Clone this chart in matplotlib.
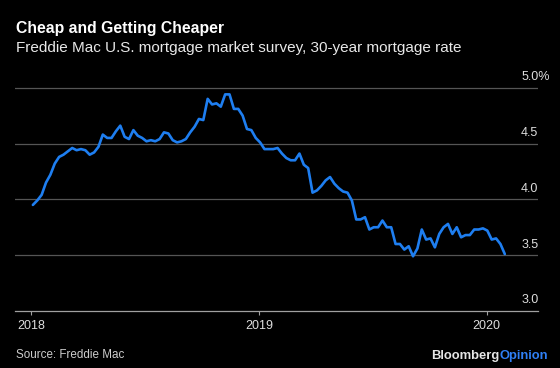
import matplotlib
matplotlib.use("Agg")
import matplotlib.pyplot as plt
import matplotlib.dates as mdates
import pandas as pd

plt.rcParams['font.family'] = ['Liberation Sans', 'DejaVu Sans']

# Data: Freddie Mac PMMS 30-year fixed rate, weekly from 2018-01-04
rates_2018 = [3.95, 3.99, 4.04, 4.15, 4.22, 4.32, 4.38, 4.40, 4.43, 4.46,
              4.44, 4.45, 4.44, 4.40, 4.42, 4.47, 4.58, 4.55, 4.55, 4.61,
              4.66, 4.56, 4.54, 4.62, 4.57, 4.55, 4.52, 4.53, 4.52, 4.54,
              4.60, 4.59, 4.53, 4.51, 4.52, 4.54, 4.60, 4.65, 4.72, 4.71,
              4.90, 4.85, 4.86, 4.83, 4.94, 4.94, 4.81, 4.81, 4.75, 4.63,
              4.62, 4.55]
rates_2019 = [4.51, 4.45, 4.45, 4.45, 4.46, 4.41, 4.37, 4.35, 4.35, 4.41,
              4.31, 4.28, 4.06, 4.08, 4.12, 4.17, 4.20, 4.14, 4.10, 4.07,
              4.06, 3.99, 3.82, 3.82, 3.84, 3.73, 3.75, 3.75, 3.81, 3.75,
              3.75, 3.60, 3.60, 3.55, 3.58, 3.49, 3.56, 3.73, 3.64, 3.65,
              3.57, 3.69, 3.75, 3.78, 3.69, 3.75, 3.66, 3.68, 3.68, 3.73,
              3.73, 3.74]
rates_2020 = [3.72, 3.64, 3.65, 3.60, 3.51]
rates = rates_2018 + rates_2019 + rates_2020
dates = pd.date_range('2018-01-04', periods=len(rates), freq='7D')

y_ticks = [3.0, 3.5, 4.0, 4.5, 5.0]
y_labels = ['3.0', '3.5', '4.0', '4.5', '5.0%']
x_ticks = ['2018-01-01', '2019-01-01', '2020-01-01']
x_labels = ['2018', '2019', '2020']

fig = plt.figure(figsize=(5.6, 3.68), dpi=100, facecolor='black')
ax = fig.add_axes([0.0273, 0.1549, 0.934, 0.6549])
ax.set_facecolor('black')

# gridlines
for v in y_ticks[1:]:
    ax.axhline(v, color='#555555', lw=0.9, zorder=1)

ax.plot(dates, rates, color='#1e7ef0', lw=1.9, zorder=3,
        solid_joinstyle='round', solid_capstyle='round')

start = mdates.date2num(pd.Timestamp('2018-01-01'))
end = mdates.date2num(pd.Timestamp('2020-01-01'))
ax.set_xlim(start - 25.2, end + 82.7)
ax.set_ylim(3.0, 5.1585)

for s in ['top', 'right', 'left']:
    ax.spines[s].set_visible(False)
ax.spines['bottom'].set_color('#a0a0a0')
ax.spines['bottom'].set_linewidth(0.9)

ax.set_yticks([])
ax.set_xticks([mdates.date2num(pd.Timestamp(d)) for d in x_ticks])
ax.set_xticklabels(x_labels)
ax.tick_params(axis='x', direction='out', length=3, width=0.8,
               color='#a0a0a0', labelcolor='#dddddd', labelsize=9, pad=3.5)

# y labels sit above the gridlines on the right
for v, lab in zip(y_ticks, y_labels):
    ax.annotate(lab, xy=(0.967, v), xycoords=ax.get_yaxis_transform(),
                xytext=(0, 5.5), textcoords='offset points',
                ha='left', va='baseline', fontsize=9, color='#dddddd')

# titles
fig.text(0.0285, 0.922, 'Cheap and Getting Cheaper', fontsize=11.3,
         fontweight='bold', color='white', ha='left', va='center')
fig.text(0.0285, 0.870,
         'Freddie Mac U.S. mortgage market survey, 30-year mortgage rate',
         fontsize=11, color='#e8e8e8', ha='left', va='center')

# footer
fig.text(0.0285, 0.035, 'Source: Freddie Mac', fontsize=8.4,
         color='#cccccc', ha='left', va='center')
op = fig.text(0.978, 0.033, 'Opinion', fontsize=9.4, fontweight='bold',
              color='#2f7ff5', ha='right', va='center')
ax.annotate('Bloomberg', xy=(0, 0.5), xycoords=op, fontsize=9.4,
            fontweight='bold', color='#e6e6e6', ha='right', va='center',
            annotation_clip=False)

fig.savefig('out.png', dpi=100, facecolor='black')
